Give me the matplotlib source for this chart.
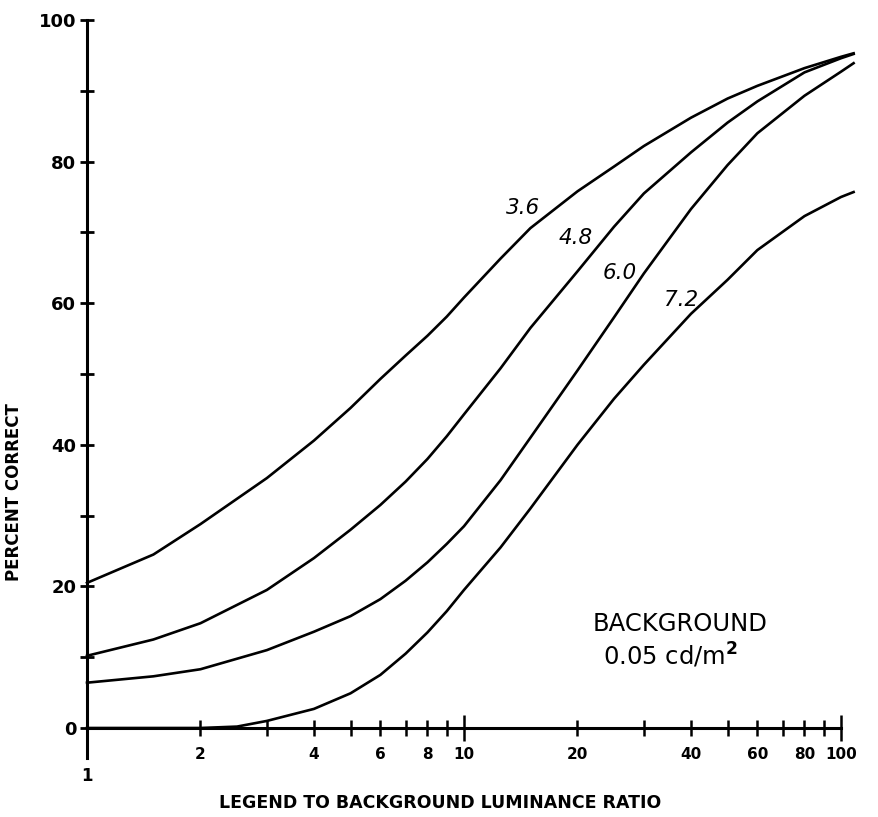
import matplotlib.pyplot as plt

# luminance ratio values (log axis)
ratio = [1, 1.5, 2, 3, 4, 5, 6, 7, 8, 9, 10, 12.5, 15, 20, 25, 30, 40, 50, 60, 80, 100, 108]

pc_36 = [20.5, 24.5, 28.8, 35.3, 40.6, 45.2, 49.3, 52.6, 55.4, 58.1, 60.8, 66.3, 70.6, 75.8, 79.3, 82.2, 86.2, 88.9, 90.7, 93.2, 94.8, 95.3]
pc_48 = [10.2, 12.5, 14.8, 19.5, 24.0, 28.0, 31.5, 34.8, 38.0, 41.2, 44.3, 50.8, 56.5, 64.5, 70.8, 75.5, 81.3, 85.5, 88.5, 92.6, 94.6, 95.2]
pc_60 = [6.4, 7.3, 8.3, 11.0, 13.6, 15.8, 18.2, 20.8, 23.4, 26.0, 28.5, 35.0, 41.0, 50.5, 58.0, 64.2, 73.3, 79.5, 84.0, 89.3, 92.7, 93.9]

ratio_72 = [1, 2, 2.5, 3, 4, 5, 6, 7, 8, 9, 10, 12.5, 15, 20, 25, 30, 40, 50, 60, 80, 100, 108]
pc_72 = [0, 0, 0.2, 1.0, 2.7, 4.9, 7.5, 10.5, 13.5, 16.5, 19.5, 25.5, 31.0, 40.0, 46.5, 51.3, 58.5, 63.3, 67.5, 72.3, 75.0, 75.7]

curve_labels = ['3.6', '4.8', '6.0', '7.2']
label_pos = [(14.3, 73.4), (19.8, 69.2), (25.9, 64.3), (37.7, 60.5)]

x_ticks = [1, 2, 3, 4, 5, 6, 7, 8, 9, 10, 20, 30, 40, 50, 60, 70, 80, 90, 100]
x_labelled = [2, 4, 6, 8, 10, 20, 40, 60, 80, 100]
y_ticks = list(range(0, 101, 10))

fig = plt.figure(figsize=(8.79, 8.17), dpi=100)
ax = fig.add_axes([87 / 879, 1 - 728 / 817, (856.6 - 87) / 879, 708 / 817])

lw = 1.9
ax.plot(ratio, pc_36, color='black', lw=lw, clip_on=False)
ax.plot(ratio, pc_48, color='black', lw=lw, clip_on=False)
ax.plot(ratio, pc_60, color='black', lw=lw, clip_on=False)
ax.plot(ratio_72, pc_72, color='black', lw=lw, clip_on=False)

for lab, (lx, ly) in zip(curve_labels, label_pos):
    ax.text(lx, ly, lab, fontsize=15.5, style='italic', ha='center', va='center')

ax.set_xscale('log')
ax.set_xlim(1, 110)
ax.set_ylim(0, 100)

for s in ['top', 'right']:
    ax.spines[s].set_visible(False)
ax.spines['left'].set_linewidth(2.2)
ax.spines['bottom'].set_linewidth(2.2)
ax.spines['bottom'].set_bounds(1, 100)

ax.set_yticks(y_ticks)
ax.set_yticklabels([str(v) if v % 20 == 0 else '' for v in y_ticks],
                   fontsize=13, fontweight='bold')
ax.tick_params(axis='y', direction='inout', length=9.5, width=2, pad=3)

ax.set_xticks(x_ticks)
ax.xaxis.set_minor_locator(plt.NullLocator())
ax.set_xticklabels([str(v) if v in x_labelled else '' for v in x_ticks],
                   fontsize=11, fontweight='bold')
ax.tick_params(axis='x', direction='inout', length=11, width=1.8, pad=8)
for t, v in zip(ax.xaxis.get_major_ticks(), x_ticks):
    if v in (10, 100):
        t.tick1line.set_markersize(19)
    if v == 1:
        t.tick1line.set_markersize(0)

# left end of the x axis: spine runs down past zero, then the "1"
ax.plot([1, 1], [0, -4.2], color='black', lw=2.2, clip_on=False)
ax.text(1, -5.5, '1', fontsize=12, fontweight='bold', ha='center', va='top')

ax.text(37.4, 14.7, 'BACKGROUND', fontsize=17.5, ha='center', va='center')
ax.text(35.2, 10.3, '0.05 cd/m$^\\mathbf{2}$', fontsize=17.5, ha='center', va='center')

ax.set_ylabel('PERCENT CORRECT', fontsize=12, fontweight='bold')
ax.set_xlabel('LEGEND TO BACKGROUND LUMINANCE RATIO', fontsize=12.5, fontweight='bold')
ax.xaxis.set_label_coords((440 - 87) / (856.6 - 87), -(794 - 728) / 708)
ax.yaxis.set_label_coords(-(87 - 14) / (856.6 - 87), (728 - 492) / 708)
ax.yaxis.label.set_verticalalignment('center')

fig.savefig('out.png', dpi=100)
